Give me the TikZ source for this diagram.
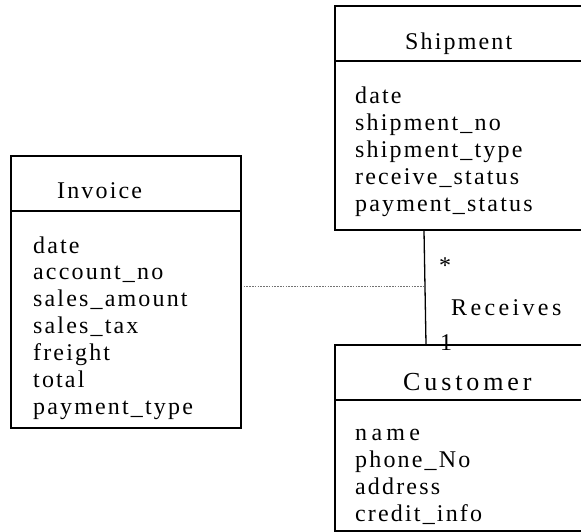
\documentclass[tikz,border=0pt]{standalone}
\usepackage{fontspec}
\setmainfont{Liberation Serif}[LetterSpace=9]
\newfontfamily\roleFont{Liberation Serif}[LetterSpace=14]
\newfontfamily\custFont{Liberation Serif}[LetterSpace=15]
\newfontfamily\nameFont{Liberation Serif}[LetterSpace=18]
\usetikzlibrary{calc}

\tikzset{
  classbox/.style={draw, line width=1.6pt, anchor=north west, inner sep=0pt},
  sepline/.style={line width=1.6pt},
  label/.style={anchor=base west, inner sep=0pt, font=\fontsize{24}{28}\selectfont},
  assoc/.style={line width=1.3pt},
  linkline/.style={black!55, line width=1.2pt, dash pattern=on 1.5pt off 1.3pt},
}

\begin{document}
\begin{tikzpicture}[x=1pt, y=-1pt]
  \useasboundingbox (0,0) rectangle (581,531);

  % class boxes
  \node[classbox, minimum width=230pt, minimum height=272pt] (inv) at (10,155) {};
  \node[classbox, minimum width=252pt, minimum height=224pt] (ship) at (334,5) {};
  \node[classbox, minimum width=252pt, minimum height=186pt] (cust) at (334,344) {};

  % header separators
  \draw[sepline] ($(inv.north west)+(0,56)$) -- ++(232,0);
  \draw[sepline] ($(ship.north west)+(0,56)$) -- ++(252,0);
  \draw[sepline] ($(cust.north west)+(0,56)$) -- ++(252,0);

  % class names
  \node[label] (invname)  at (57,198)  {Invoice};
  \node[label] (shipname) at (405,49)  {Shipment};
  \node[label, font=\fontsize{26}{30}\selectfont] (custname) at (403,390) {\custFont Customer};

  % attributes
  \foreach \t [count=\i] in {date, account\_no, sales\_amount, sales\_tax, freight, total, payment\_type}
    \node[label] (inv-a\i) at (33,{253+26.9*(\i-1)}) {\t};
  \foreach \t [count=\i] in {date, shipment\_no, shipment\_type, receive\_status, payment\_status}
    \node[label] (ship-a\i) at (355,{103+27*(\i-1)}) {\t};
  \node[label] (cust-a1) at (355,440) {\nameFont name};
  \foreach \t [count=\i from 2] in {phone\_No, address, credit\_info}
    \node[label] (cust-a\i) at (355,{440+27.3*(\i-1)}) {\t};

  % association Shipment -- Customer
  \coordinate (rtop) at ($(ship.south west)+(90,0)$);
  \coordinate (rbot) at ($(cust.north west)+(92,0)$);
  \draw[assoc] (rtop) -- (rbot);
  \coordinate (mid) at ($(rtop)!0.49!(rbot)$);

  % link from Invoice to the association
  \draw[linkline] (inv.north east |- mid) ++(2,0) -- (mid);

  % multiplicities and role name
  \node[label, anchor=base] (many) at (445,273) {*};
  \node[label] (rname) at (451,315) {\roleFont Receives};
  \node[label] (one) at (440,350) {1};
\end{tikzpicture}
\end{document}
